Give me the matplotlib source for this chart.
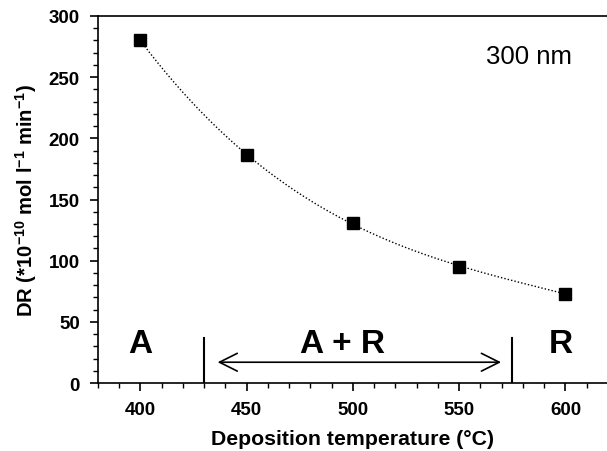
import numpy as np
import matplotlib
matplotlib.use("Agg")
import matplotlib.pyplot as plt
from matplotlib.ticker import MultipleLocator

plt.rcParams['font.family'] = ['Liberation Sans', 'DejaVu Sans']
plt.rcParams['mathtext.fontset'] = 'custom'
plt.rcParams['mathtext.rm'] = 'Liberation Sans:bold'
plt.rcParams['mathtext.bf'] = 'Liberation Sans:bold'
plt.rcParams['mathtext.default'] = 'bf'

# data
temperature = [400, 450, 500, 550, 600]
dep_rate = [280, 186, 131, 95, 73]
phase_bounds = [430, 575]
phase_labels = ['A', 'A + R', 'R']
phase_label_x = [400, 495, 598]


def main():
    fig = plt.figure(figsize=(6.07, 4.52), dpi=100)
    ax = fig.add_axes([0.1614, 0.1504, 0.8402, 0.812])

    # dotted fitted curve through the points
    coef = np.polyfit(temperature, dep_rate, 3)
    xs = np.linspace(min(temperature), max(temperature), 200)
    ax.plot(xs, np.polyval(coef, xs), color='black', linestyle=(0, (1, 1.5)), linewidth=1.0)
    ax.plot(temperature, dep_rate, 's', color='black', markersize=8.5)

    # phase region markers
    for xb in phase_bounds:
        ax.plot([xb, xb], [0, 37], color='black', linewidth=1.5)
    ax.annotate('', xy=(571, 17), xytext=(435, 17),
                arrowprops=dict(arrowstyle='<->', color='black', lw=1.2,
                                mutation_scale=32))
    for lab, xl in zip(phase_labels, phase_label_x):
        ax.text(xl, 32, lab, ha='center', va='center', fontsize=24, fontweight='bold')

    ax.text(0.929, 0.89, '300 nm', transform=ax.transAxes, ha='right', va='center', fontsize=18.5)

    ax.set_xlim(380, 620)
    ax.set_ylim(0, 300)
    ax.xaxis.set_major_locator(MultipleLocator(50))
    ax.xaxis.set_minor_locator(MultipleLocator(10))
    ax.yaxis.set_major_locator(MultipleLocator(50))
    ax.yaxis.set_minor_locator(MultipleLocator(10))
    ax.tick_params(which='major', direction='out', length=6, width=1.2, labelsize=13.5, pad=7)
    ax.tick_params(which='minor', direction='out', length=3.5, width=1.0)
    ax.tick_params(top=False, right=False, which='both')
    for lab in ax.get_xticklabels() + ax.get_yticklabels():
        lab.set_fontweight('bold')
    ax.spines['right'].set_visible(False)
    for s in ['left', 'bottom', 'top']:
        ax.spines[s].set_linewidth(1.2)

    ax.set_xlabel('Deposition temperature (°C)', fontsize=15.3, fontweight='bold', labelpad=8)
    ax.set_ylabel(r'DR (*10$^{-10}$ mol l$^{-1}$ min$^{-1}$)', fontsize=14.6,
                  fontweight='bold', labelpad=7)

    fig.savefig('out.png', dpi=100)


if __name__ == "__main__":
    main()
